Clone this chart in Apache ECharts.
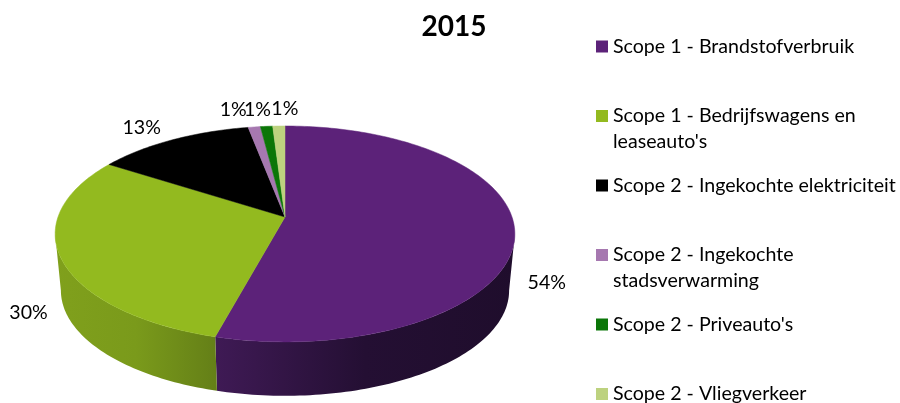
<!DOCTYPE html>
<html>
<head>
<meta charset="utf-8">
<style>html,body{margin:0;padding:0;background:#fff}#chart{width:900px;height:403px}</style>
<script src="https://cdn.jsdelivr.net/npm/echarts@6/dist/echarts.min.js"></script>
</head>
<body>
<div id="chart"></div>
<script>
const categories = ['Scope 1 - Brandstofverbruik', "Scope 1 - Bedrijfswagens en\nleaseauto's", 'Scope 2 - Ingekochte elektriciteit', 'Scope 2 - Ingekochte\nstadsverwarming', "Scope 2 - Priveauto's", 'Scope 2 - Vliegverkeer'];
const values = [54.2, 29.9, 12.9, 1, 1, 1];
const colors = ['#5c2279', '#93ba1f', '#000000', '#a678b0', '#0b7608', '#bdd27f'];
const sideColors = [['#3f1a55', '#240f33', '#1f0d2c'], ['#80a01c', '#7a9a1b', '#647f17'], ['#000', '#000', '#000'], ['#7d5a85', '#7d5a85', '#7d5a85'], ['#085906', '#085906', '#085906'], ['#8e9e5f', '#8e9e5f', '#8e9e5f']];
const labelOffsets = [[32, 52], [-32, 56], [-31, -12], [-21, -17], [-9, -17], [6, -17]];

const FONT = 'Lato';
const total = values.reduce((a, b) => a + b, 0);
// perspective projection of the unit disc, apex is where the slices meet
const apex = [285, 217], a = 227, b = 105.3, k = 0.157;
const depth = 57, shrink = 0.975;

function rim(t) {
    const X = Math.sin(t), Y = -Math.cos(t), w = 1 - k * Y;
    return [apex[0] + a * X / w, apex[1] + b * Y / w];
}
function lower(t) {
    const p = rim(t);
    return [apex[0] + (p[0] - apex[0]) * shrink, apex[1] + depth + (p[1] - apex[1]) * shrink];
}
function arc(fn, from, to) {
    const pts = [], n = Math.max(2, Math.ceil((to - from) / 0.02));
    for (let i = 0; i <= n; i++) pts.push(fn(from + (to - from) * i / n));
    return pts;
}
function renderSlice(params, api) {
    const i = params.seriesIndex;
    const t0 = values.slice(0, i).reduce((s, v) => s + v, 0) / total * 2 * Math.PI;
    const t1 = t0 + api.value(0) / total * 2 * Math.PI;
    const children = [];
    // wall only between the two silhouette points of the rim
    const from = Math.max(t0, 99 * Math.PI / 180), to = Math.min(t1, 261 * Math.PI / 180);
    if (to > from) {
        const s = sideColors[i];
        children.push({
            type: 'polygon', z2: 1,
            shape: { points: arc(rim, from, to).concat(arc(lower, from, to).reverse()) },
            style: {
                fill: new echarts.graphic.LinearGradient(0, 0, 1, 0, [{ offset: 0, color: s[0] }, { offset: 0.5, color: s[1] }, { offset: 1, color: s[2] }]),
                stroke: null
            }
        });
    }
    children.push({
        type: 'polygon', z2: 2,
        shape: { points: [apex].concat(arc(rim, t0, t1)) },
        style: { fill: colors[i], stroke: colors[i], lineWidth: 0.5 }
    });
    const mid = rim((t0 + t1) / 2), off = labelOffsets[i];
    children.push({
        type: 'text', z2: 3,
        style: { text: Math.round(api.value(0)) + '%', x: mid[0] + off[0], y: mid[1] + off[1], align: 'center', verticalAlign: 'middle', fill: '#000', font: '19.6px ' + FONT }
    });
    return { type: 'group', children: children };
}

const myChart = echarts.init(document.getElementById('chart'));
myChart.setOption({
    animation: false,
    title: {
        text: '2015', left: 449, top: 8, textAlign: 'center',
        textStyle: { fontFamily: FONT, fontSize: 28, fontWeight: 'bold', color: '#000' }
    },
    legend: categories.map((name, i) => {
        const twoLines = name.indexOf('\n') >= 0;
        return {
            data: [name], left: 596, top: 33.5 + i * 69.5, padding: 0, selectedMode: false,
            itemWidth: 12, itemHeight: twoLines ? 38 : 12,
            icon: twoLines ? 'path://M0 0h12v12h-12zM0 38l0 0' : 'rect',
            textStyle: { fontFamily: FONT, fontSize: 19.6, lineHeight: 26, color: '#000' }
        };
    }),
    series: categories.map((name, i) => ({
        type: 'custom', name: name, coordinateSystem: 'none', silent: true,
        itemStyle: { color: colors[i] },
        data: [values[i]],
        renderItem: renderSlice
    }))
});
</script>
</body>
</html>
